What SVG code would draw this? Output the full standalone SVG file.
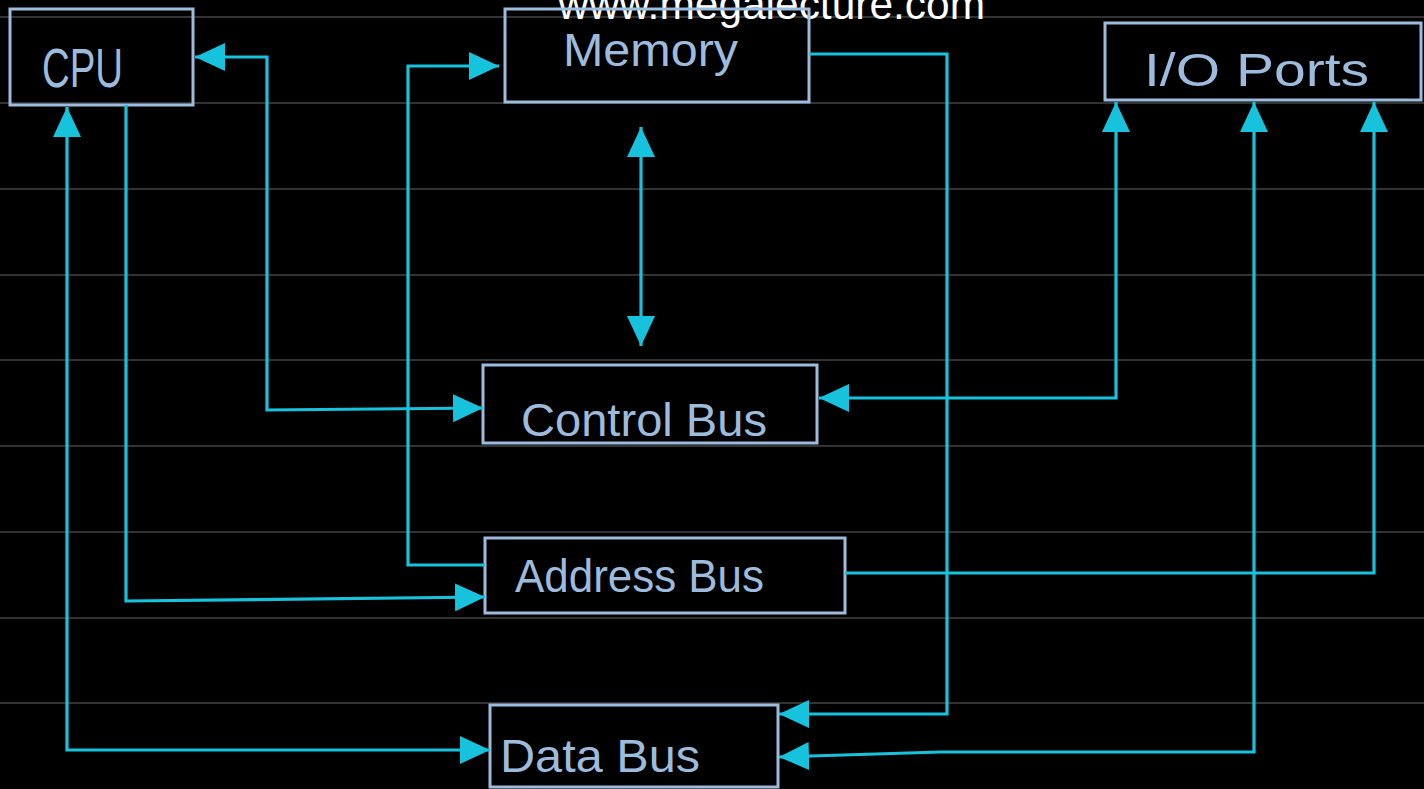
<svg xmlns="http://www.w3.org/2000/svg" width="1424" height="789" viewBox="0 0 1424 789">
  <style>
    .rule { stroke: #666666; stroke-width: 1.2; }
    .box { fill: none; stroke: #9dbbdc; stroke-width: 3; }
    .label { fill: #9dbbdc; font-family: "Liberation Sans", Arial, sans-serif; font-size: 46px; }
    .wire { fill: none; stroke: #17c3dc; stroke-width: 3.2; stroke-linejoin: miter; }
    .mark { font-family: "Liberation Sans", Arial, sans-serif; font-size: 42px; fill: #ffffff; }
  </style>
  <defs>
    <marker id="head" viewBox="0 0 30 28" refX="30" refY="14" markerWidth="30" markerHeight="28" markerUnits="userSpaceOnUse" orient="auto-start-reverse">
      <path d="M0,0 L30,14 L0,28 Z" fill="#17c3dc"/>
    </marker>
  </defs>

  <rect width="1424" height="789" fill="#000000"/>

  <!-- ruled lines -->
  <g id="rules">
    <line class="rule" x1="0" y1="17" x2="1424" y2="17"/>
    <line class="rule" x1="0" y1="103" x2="1424" y2="103"/>
    <line class="rule" x1="0" y1="189" x2="1424" y2="189"/>
    <line class="rule" x1="0" y1="275" x2="1424" y2="275"/>
    <line class="rule" x1="0" y1="360" x2="1424" y2="360"/>
    <line class="rule" x1="0" y1="446" x2="1424" y2="446"/>
    <line class="rule" x1="0" y1="532" x2="1424" y2="532"/>
    <line class="rule" x1="0" y1="618" x2="1424" y2="618"/>
    <line class="rule" x1="0" y1="703" x2="1424" y2="703"/>
  </g>

  <text class="mark" x="558" y="19" textLength="427" lengthAdjust="spacingAndGlyphs">www.megalecture.com</text>

  <!-- nodes -->
  <g id="cpu">
    <rect class="box" x="10" y="9" width="183" height="96"/>
    <text class="label" x="42" y="87" style="font-size:56px" textLength="81" lengthAdjust="spacingAndGlyphs">CPU</text>
  </g>
  <g id="memory">
    <rect class="box" x="505" y="9" width="304" height="93"/>
    <text class="label" x="563" y="66" textLength="175" lengthAdjust="spacingAndGlyphs">Memory</text>
  </g>
  <g id="io-ports">
    <rect class="box" x="1105" y="23" width="316" height="77"/>
    <text class="label" x="1144" y="86" textLength="225" lengthAdjust="spacingAndGlyphs">I/O  Ports</text>
  </g>
  <g id="control-bus">
    <rect class="box" x="483" y="365" width="334" height="78"/>
    <text class="label" x="521" y="436" textLength="246" lengthAdjust="spacingAndGlyphs">Control Bus</text>
  </g>
  <g id="address-bus">
    <rect class="box" x="485" y="538" width="360" height="75"/>
    <text class="label" x="515" y="592" textLength="249" lengthAdjust="spacingAndGlyphs">Address Bus</text>
  </g>
  <g id="data-bus">
    <rect class="box" x="490" y="705" width="288" height="82"/>
    <text class="label" x="500" y="772" textLength="200" lengthAdjust="spacingAndGlyphs">Data Bus</text>
  </g>

  <!-- connectors -->
  <g id="connectors">
    <!-- CPU <-> Data Bus -->
    <polyline class="wire" points="67,107 67,750 490,750" marker-start="url(#head)" marker-end="url(#head)"/>
    <!-- CPU -> Address Bus -->
    <polyline class="wire" points="126,105 126,601 485,597" marker-end="url(#head)"/>
    <!-- CPU <-> Control Bus -->
    <polyline class="wire" points="195,57 267,57 267,410 483,408" marker-start="url(#head)" marker-end="url(#head)"/>
    <!-- Address Bus -> Memory -->
    <polyline class="wire" points="485,565 408,565 408,66 499,66" marker-end="url(#head)"/>
    <!-- Memory <-> Control Bus -->
    <line class="wire" x1="641" y1="127" x2="641" y2="346" marker-start="url(#head)" marker-end="url(#head)"/>
    <!-- Memory -> Data Bus -->
    <polyline class="wire" points="809,54 947,54 947,714 779,714" marker-end="url(#head)"/>
    <!-- Control Bus <-> I/O Ports -->
    <polyline class="wire" points="819,398 1116,398 1116,102" marker-start="url(#head)" marker-end="url(#head)"/>
    <!-- Data Bus <-> I/O Ports -->
    <polyline class="wire" points="779,757 940,752 1254,752 1254,102" marker-start="url(#head)" marker-end="url(#head)"/>
    <!-- Address Bus -> I/O Ports -->
    <polyline class="wire" points="845,573 1374,573 1374,102" marker-end="url(#head)"/>
  </g>
</svg>
